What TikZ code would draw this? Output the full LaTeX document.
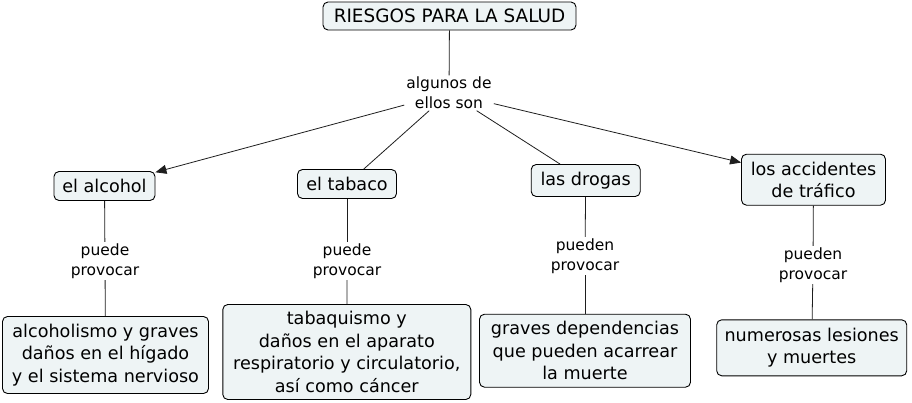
\documentclass[tikz,border=0pt]{standalone}
\usepackage{fontspec}
\setmainfont{DejaVu Sans}
\usetikzlibrary{arrows.meta}
\definecolor{boxfill}{RGB}{238,244,245}
\definecolor{linecol}{RGB}{30,30,30}
\begin{document}
\begin{tikzpicture}[x=1pt,y=-1pt,
  concept/.style={draw=black, line width=0.9pt, fill=boxfill, rounded corners=5pt,
    align=center, inner xsep=2pt, inner ysep=1pt,
    font=\fontsize{17.6}{22.5}\selectfont},
  linklabel/.style={align=center, inner xsep=2pt, inner ysep=1.5pt,
    font=\fontsize{15.5}{20}\selectfont},
  conn/.style={draw=linecol, line width=0.8pt},
  arr/.style={conn, -{Triangle[length=11pt,width=9pt]}}]
\useasboundingbox (0,0) rectangle (912,402);

\node[concept, minimum width=253pt, minimum height=28pt, font=\fontsize{18.4}{22.5}\selectfont] (title) at (449.5,16) {RIESGOS PARA LA SALUD};
\node[linklabel] (l0) at (449,93) {algunos de\\ellos son};

\node[concept, minimum width=101pt, minimum height=29pt] (alc) at (104.5,186) {el alcohol};
\node[concept, minimum width=99pt, minimum height=29pt] (tab) at (347,184) {el tabaco};
\node[concept, minimum width=109pt, minimum height=32pt] (dro) at (585.7,180.5) {las drogas};
\node[concept, minimum width=144pt, minimum height=51pt] (acc) at (813.5,179.7) {los accidentes\\de tráfico};

\node[linklabel] (l1) at (105,261) {puede\\provocar};
\node[linklabel] (l2) at (347,261) {puede\\provocar};
\node[linklabel] (l3) at (585,256) {pueden\\provocar};
\node[linklabel] (l4) at (813,265) {pueden\\provocar};

\node[concept, minimum width=206pt, minimum height=77pt] (b1) at (105.5,355) {alcoholismo y graves\\daños en el hígado\\y el sistema nervioso};
\node[concept, minimum width=248pt, minimum height=95pt] (b2) at (346.8,352) {tabaquismo y\\daños en el aparato\\respiratorio y circulatorio,\\así como cáncer};
\node[concept, minimum width=211pt, minimum height=73pt] (b3) at (585,350.7) {graves dependencias\\que pueden acarrear\\la muerte};
\node[concept, minimum width=190pt, minimum height=56pt] (b4) at (811.7,347.8) {numerosas lesiones\\y muertes};

\draw[conn] (title) -- (l0);
\draw[arr] (l0) -- (alc);
\draw[conn] (l0) -- (tab);
\draw[conn] (l0) -- (dro);
\draw[arr] (l0) -- (acc);

\draw[conn] (alc) -- (l1);
\draw[conn] (l1) -- (b1);
\draw[conn] (tab) -- (l2);
\draw[conn] (l2) -- (b2);
\draw[conn] (dro) -- (l3);
\draw[conn] (l3) -- (b3);
\draw[conn] (acc) -- (l4);
\draw[conn] (l4) -- (b4);
\end{tikzpicture}
\end{document}
